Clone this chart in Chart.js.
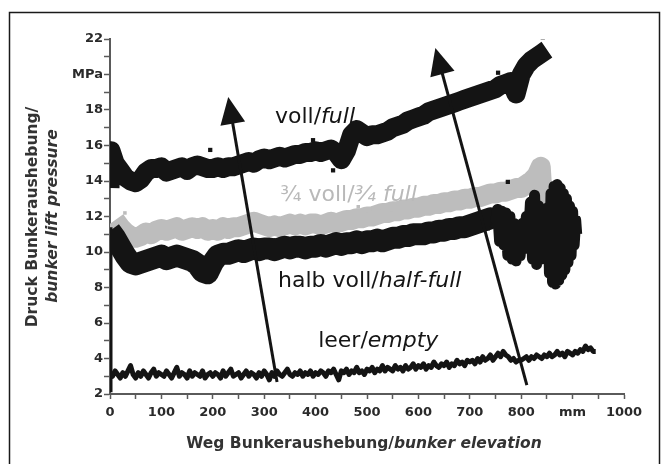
<!DOCTYPE html>
<html><head><meta charset="utf-8">
<script src="https://cdn.jsdelivr.net/npm/chart.js@4.4.1/dist/chart.umd.min.js"></script>
<style>html,body{margin:0;padding:0;background:#fff}</style>
</head><body>
<canvas id="c" width="665" height="464"></canvas>
<script>
// ---------------- DATA ----------------
const xTicks = [0,100,200,300,400,500,600,700,800,900,1000];
const yTicks = [2,4,6,8,10,12,14,16,18,20,22];

const startX = [0,0,0,0];
const startY = [2.1,5.1,7.7,11.4];

const fullX = [0,2,10,20,30,40,50,60,70,80,90,100,110,120,130,140,150,160,170,180,190,200,210,220,230,240,250,260,270,280,290,300,310,320,330,340,350,360,370,380,390,400,410,420,430,440,450,460,470,480,490,500,510,520,530,540,550,560,570,580,590,600,610,620,630,640,650,660,670,680,690,700,710,720,730,740,750,760,770,780,790,800,810,820,830,840,850];
const fullY = [13.6,15.7,15.0,14.6,14.2,14.0,13.9,14.1,14.5,14.7,14.7,14.8,14.5,14.6,14.7,14.8,14.6,14.8,14.9,14.8,14.7,14.7,14.8,14.7,14.8,14.8,14.9,15.0,15.1,15.0,15.2,15.3,15.2,15.3,15.4,15.3,15.4,15.5,15.5,15.6,15.6,15.7,15.6,15.7,15.8,15.6,15.2,15.7,16.6,16.9,16.7,16.5,16.6,16.6,16.7,16.8,17.0,17.1,17.2,17.4,17.5,17.6,17.7,17.9,18.0,18.1,18.2,18.3,18.4,18.5,18.6,18.7,18.8,18.9,19.0,19.1,19.2,19.4,19.5,19.6,18.9,20.0,20.5,20.8,21.0,21.2,21.4];

const threeQX = [10,20,30,40,50,60,70,80,90,100,110,120,130,140,150,160,170,180,190,200,210,220,230,240,250,260,270,280,290,300,310,320,330,340,350,360,370,380,390,400,410,420,430,440,450,460,470,480,490,500,510,520,530,540,550,560,570,580,590,600,610,620,630,640,650,660,670,680,690,700,710,720,730,740,750,760,770,780,790,800,810,820,830,838,842,845,848];
const threeQY = [11.8,11.4,11.1,10.9,10.8,10.9,11.1,11.0,11.2,11.3,11.2,11.3,11.4,11.2,11.3,11.4,11.3,11.4,11.2,11.3,11.2,11.4,11.3,11.4,11.4,11.5,11.6,11.7,11.6,11.5,11.4,11.5,11.4,11.5,11.6,11.5,11.6,11.5,11.6,11.6,11.5,11.6,11.7,11.6,11.7,11.8,11.8,11.9,11.9,12.0,12.0,12.1,12.2,12.2,12.3,12.3,12.4,12.4,12.5,12.5,12.6,12.6,12.7,12.7,12.8,12.8,12.9,12.9,13.0,13.0,13.1,13.1,13.2,13.3,13.3,13.4,13.4,13.5,13.6,13.6,13.8,14.0,14.3,14.8,13.0,11.0,9.8];

const halfX = [0,10,20,30,40,50,60,70,80,90,100,110,120,130,140,150,160,170,180,190,200,210,220,230,240,250,260,270,280,290,300,310,320,330,340,350,360,370,380,390,400,410,420,430,440,450,460,470,480,490,500,510,520,530,540,550,560,570,580,590,600,610,620,630,640,650,660,670,680,690,700,710,720,730,740,750];
const halfY = [11.2,10.8,10.3,9.8,9.4,9.3,9.4,9.5,9.6,9.7,9.8,9.6,9.7,9.8,9.7,9.6,9.5,9.3,8.9,8.8,9.4,9.8,9.9,9.9,10.0,10.1,10.0,10.1,10.2,10.1,10.2,10.2,10.1,10.2,10.3,10.2,10.3,10.3,10.2,10.3,10.3,10.4,10.3,10.4,10.5,10.4,10.5,10.5,10.6,10.5,10.6,10.6,10.7,10.6,10.7,10.8,10.8,10.9,10.9,11.0,11.0,11.0,11.1,11.1,11.2,11.2,11.3,11.3,11.4,11.4,11.5,11.6,11.7,11.8,11.9,11.7];

const halfTailX = [745,750,754,758,762,766,770,774,778,782,786,790,794,798,802,806,810,814,818,822,826,830,834,838,842,848,852,855,858,861,864,867,870,873,876,879,882,885,888,891,894,897,900,903,906,908];
const halfTailY = [11.7,11.6,12.4,10.6,12.3,10.4,12.2,9.8,12.0,9.6,11.6,9.5,11.2,9.8,11.6,10.2,12.0,10.6,12.8,9.6,13.2,9.3,12.6,9.6,10.8,10.0,12.5,8.8,13.3,8.3,13.7,8.2,13.8,8.4,13.6,8.7,13.3,9.0,13.0,9.4,12.6,9.8,12.3,10.4,11.8,11.0];

const emptyX = [0,5,10,15,20,25,30,35,40,45,50,55,60,65,70,75,80,85,90,95,100,
105,110,115,120,125,130,135,140,145,150,155,160,165,170,175,180,185,190,195,200,
205,210,215,220,225,230,235,240,245,250,255,260,265,270,275,280,285,290,295,300,
305,310,315,320,325,330,335,340,345,350,355,360,365,370,375,380,385,390,395,400,
405,410,415,420,425,430,435,440,445,450,455,460,465,470,475,480,485,490,495,500,
505,510,515,520,525,530,535,540,545,550,555,560,565,570,575,580,585,590,595,600,
605,610,615,620,625,630,635,640,645,650,655,660,665,670,675,680,685,690,695,700,
705,710,715,720,725,730,735,740,745,750,755,760,765,770,775,780,785,790,795,800,
805,810,815,820,825,830,835,840,845,850,855,860,865,870,875,880,885,890,895,900,
905,910,915,920,925,930,935,940,945];
const emptyY = [3.2,3.0,3.3,3.1,2.9,3.2,3.0,3.3,3.6,3.1,2.9,3.2,3.0,3.3,3.1,2.9,3.2,3.4,3.0,3.2,3.1,
3.0,3.3,3.1,2.9,3.2,3.5,3.0,3.2,3.1,2.9,3.3,3.0,3.2,3.1,3.0,3.3,2.9,3.1,3.2,3.0,
3.2,3.1,2.9,3.3,3.0,3.2,3.4,3.0,3.1,3.2,2.9,3.1,3.3,3.0,3.2,3.1,2.9,3.2,3.0,3.3,
3.1,2.8,3.2,3.0,3.3,3.1,3.0,3.2,3.4,3.1,3.0,3.2,3.1,3.3,3.0,3.2,3.1,3.3,3.0,3.2,
3.1,3.3,3.2,3.0,3.3,3.2,3.4,3.1,2.8,3.3,3.2,3.4,3.1,3.3,3.2,3.5,3.2,3.3,3.1,3.4,
3.3,3.5,3.2,3.4,3.3,3.6,3.3,3.5,3.4,3.3,3.6,3.4,3.5,3.3,3.6,3.4,3.5,3.7,3.4,3.6,
3.5,3.7,3.4,3.6,3.5,3.8,3.6,3.5,3.7,3.6,3.8,3.5,3.7,3.6,3.9,3.7,3.8,3.6,3.9,3.8,
3.9,3.7,4.0,3.8,4.1,3.9,4.0,4.2,3.9,4.1,4.3,4.1,4.4,4.2,4.1,3.9,4.0,3.8,3.9,3.9,
4.0,4.1,3.9,4.1,4.0,4.2,4.1,4.0,4.2,4.1,4.3,4.1,4.2,4.4,4.2,4.3,4.1,4.4,4.3,4.2,
4.4,4.3,4.5,4.4,4.7,4.5,4.6,4.4,4.4];

const blackSpeckX = [195,395,434,755,842,774];
const blackSpeckY = [15.75,16.3,14.6,20.1,22.1,13.95];
const graySpeckX = [29,483,500,512,530,548];
const graySpeckY = [12.2,12.55,12.3,12.45,12.5,12.4];

const curveLabels = [
  {x:321, y:17.28, parts:[['voll/','normal'],['full','italic']], color:'#151515'},
  {x:331, y:12.9,  parts:[['\u00BE voll/','normal'],['\u00BE full','italic']], color:'#b9b9b9'},
  {x:327, y:8.03,  parts:[['halb voll/','normal'],['half-full','italic']], color:'#151515'},
  {x:405, y:4.65,  parts:[['leer/','normal'],['empty','italic']], color:'#151515'}
];
const arrows = [
  {from:[325,2.68], to:[230,18.73]},
  {from:[811,2.5],  to:[633,21.5]}
];
const xTitle = [['Weg Bunkeraushebung/','normal'],['bunker elevation','italic']];
const yTitle1 = [['Druck Bunkeraushebung/','normal']];
const yTitle2 = [['bunker lift pressure','italic']];

// ---------------- CHART ----------------
const BLACK = '#141414', GRAY = '#bdbdbd', FONT = '"DejaVu Sans"';
const pts = (xs, ys) => xs.map((x, i) => ({x, y: ys[i]}));

function drawMixed(ctx, parts, x, y, size, weight, align) {
  let total = 0;
  parts.forEach(p => { ctx.font = `${p[1]} ${weight} ${size}px ${FONT}`; total += ctx.measureText(p[0]).width; });
  let cx = align === 'center' ? x - total / 2 : x;
  parts.forEach(p => { ctx.font = `${p[1]} ${weight} ${size}px ${FONT}`; ctx.fillText(p[0], cx, y); cx += ctx.measureText(p[0]).width; });
}

const decor = {
  id: 'decor',
  beforeDraw(chart) {
    const c = chart.ctx; c.save(); c.fillStyle = '#fff'; c.fillRect(0, 0, chart.width, chart.height); c.restore();
  },
  afterDatasetsDraw(chart) {
    const {ctx, scales: {x, y}} = chart;
    ctx.save();
    ctx.fillStyle = BLACK; ctx.strokeStyle = BLACK;
    arrows.forEach(a => {
      const x0 = x.getPixelForValue(a.from[0]), y0 = y.getPixelForValue(a.from[1]);
      const x1 = x.getPixelForValue(a.to[0]), y1 = y.getPixelForValue(a.to[1]);
      const dx = x1 - x0, dy = y1 - y0, len = Math.hypot(dx, dy), ux = dx / len, uy = dy / len;
      const hl = 27, hw = 12.5;
      const bx = x1 - ux * hl, by = y1 - uy * hl;
      ctx.beginPath(); ctx.moveTo(x0, y0); ctx.lineTo(bx + ux * 3, by + uy * 3); ctx.lineWidth = 3; ctx.stroke();
      ctx.beginPath(); ctx.moveTo(x1, y1); ctx.lineTo(bx - uy * hw, by + ux * hw); ctx.lineTo(bx + uy * hw, by - ux * hw); ctx.closePath(); ctx.fill();
    });
    ctx.textBaseline = 'alphabetic';
    curveLabels.forEach(l => {
      ctx.fillStyle = l.color;
      drawMixed(ctx, l.parts, x.getPixelForValue(l.x), y.getPixelForValue(l.y), 22, 'normal', 'left');
    });
    ctx.restore();
  },
  afterDraw(chart) {
    const ctx = chart.ctx;
    ctx.save();
    ctx.strokeStyle = '#1a1a1a'; ctx.lineWidth = 1.5;
    ctx.strokeRect(9.5, 12.5, 650, 470);
    ctx.fillStyle = '#333';
    ctx.textBaseline = 'alphabetic';
    drawMixed(ctx, xTitle, 364, 448, 15.5, 'bold', 'center');
    ctx.textBaseline = 'middle';
    ctx.translate(33, 217); ctx.rotate(-Math.PI / 2);
    drawMixed(ctx, yTitle1, 0, 0, 15.5, 'bold', 'center');
    ctx.rotate(Math.PI / 2); ctx.translate(20, -1); ctx.rotate(-Math.PI / 2);
    drawMixed(ctx, yTitle2, 0, 0, 15.5, 'bold', 'center');
    ctx.restore();
  }
};

const lineDs = (label, xs, ys, color, width, order) => ({
  label, data: pts(xs, ys), borderColor: color, backgroundColor: color, borderWidth: width,
  pointRadius: 0, tension: 0, fill: false, borderJoinStyle: 'round', borderCapStyle: 'butt', clip: 0, order
});

new Chart(document.getElementById('c'), {
  type: 'line',
  data: {
    datasets: [
      lineDs('¾ voll', threeQX, threeQY, GRAY, 20, 7),
      {label:'gray specks', type:'scatter', data: pts(graySpeckX, graySpeckY), pointStyle:'rect', pointRadius:2.5, backgroundColor: GRAY, borderWidth:0, order: 6},
      lineDs('halb voll', halfX, halfY, BLACK, 22, 5),
      lineDs('halb voll tail', halfTailX, halfTailY, BLACK, 11, 4),
      lineDs('voll', fullX, fullY, BLACK, 19, 3),
      lineDs('leer', emptyX, emptyY, BLACK, 5, 2),
      lineDs('start', startX, startY, BLACK, 5, 1),
      {label:'black specks', type:'scatter', data: pts(blackSpeckX, blackSpeckY), pointStyle:'rect', pointRadius:3, backgroundColor: BLACK, borderWidth:0, order: 0}
    ]
  },
  options: {
    responsive: false, animation: false, devicePixelRatio: 1,
    layout: {padding: {left: 0, top: 39, right: 41, bottom: 0}},
    plugins: {legend: {display: false}, tooltip: {enabled: false}},
    scales: {
      x: {
        type: 'linear', min: 0, max: 1000,
        afterFit: s => { s.height = 70; },
        border: {display: true, color: '#5a5a5a', width: 2},
        grid: {display: true, drawOnChartArea: false, drawTicks: true, tickLength: 5, tickColor: '#5a5a5a', tickWidth: 1.5},
        ticks: {
          stepSize: 50, autoSkip: false, maxRotation: 0, padding: 6, color: '#2a2a2a',
          font: {family: 'DejaVu Sans', size: 13, weight: 'bold'},
          callback: v => xTicks.includes(v) ? (v === 900 ? 'mm' : String(v)) : ''
        }
      },
      y: {
        type: 'linear', min: 2, max: 22,
        afterFit: s => { s.width = 110; },
        border: {display: true, color: '#5a5a5a', width: 2},
        grid: {display: true, drawOnChartArea: false, drawTicks: true, tickLength: 6, tickColor: '#5a5a5a', tickWidth: 1.5},
        ticks: {
          stepSize: 1, autoSkip: false, padding: 1, color: '#2a2a2a',
          font: {family: 'DejaVu Sans', size: 13, weight: 'bold'},
          callback: v => yTicks.includes(v) ? (v === 20 ? 'MPa' : String(v)) : ''
        }
      }
    }
  },
  plugins: [decor]
});
</script>
</body></html>
